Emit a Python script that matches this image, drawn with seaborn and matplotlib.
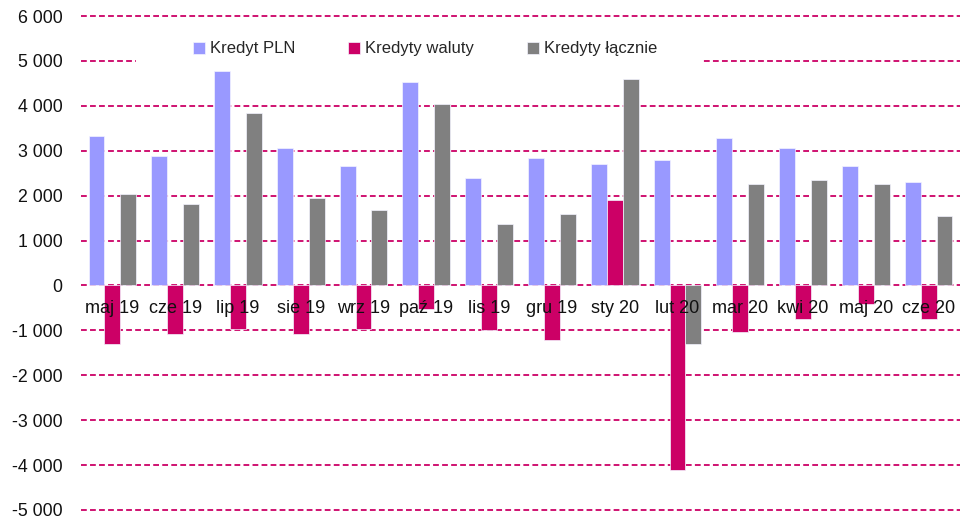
import matplotlib
matplotlib.use("Agg")
import matplotlib.pyplot as plt
import seaborn as sns
import pandas as pd
from matplotlib.ticker import FuncFormatter
from matplotlib.patches import Rectangle

months = ["maj 19", "cze 19", "lip 19", "sie 19", "wrz 19", "paź 19", "lis 19",
          "gru 19", "sty 20", "lut 20", "mar 20", "kwi 20", "maj 20", "cze 20"]
kredyt_pln = [3330, 2880, 4780, 3055, 2660, 4520, 2400, 2830, 2700, 2790, 3280, 3055, 2660, 2305]
kredyty_waluty = [-1310, -1090, -960, -1090, -960, -515, -1000, -1220, 1905, -4100, -1045, -740, -420, -740]
kredyty_lacznie = [2045, 1820, 3850, 1955, 1680, 4035, 1375, 1600, 4605, -1310, 2260, 2350, 2260, 1550]
series_names = ["Kredyt PLN", "Kredyty waluty", "Kredyty łącznie"]
colors = ["#9999FF", "#CC0066", "#808080"]

rows = []
for name, vals in zip(series_names, [kredyt_pln, kredyty_waluty, kredyty_lacznie]):
    for m, v in zip(months, vals):
        rows.append({"month": m, "series": name, "value": v})
df = pd.DataFrame(rows)

sns.set_theme(style="white")
plt.rcParams["font.family"] = ["Liberation Sans", "DejaVu Sans"]

fig = plt.figure(figsize=(9.6, 5.22), dpi=100)
ax = fig.add_axes([81/960, 1 - 510/522, 1 - 81/960, (510 - 16)/522])

sns.barplot(data=df, x="month", y="value", hue="series", order=months,
            hue_order=series_names, palette=colors, width=0.76, saturation=1,
            edgecolor="#F4F4FF", linewidth=0.5, ax=ax, zorder=3)

ax.set_ylim(-5000, 6000)
ax.set_xlim(-0.5, len(months) - 0.5)
ax.set_yticks(range(-5000, 6001, 1000))
ax.yaxis.set_major_formatter(FuncFormatter(lambda v, p: f"{int(v):,}".replace(",", " ")))
ax.grid(axis="y", color="#CC0066", linestyle=(0, (3.2, 1.8)), linewidth=1.3)
ax.grid(axis="x", visible=False)
ax.set_axisbelow(True)
for gl in ax.yaxis.get_gridlines():
    gl.set_clip_on(False)
for s in ax.spines.values():
    s.set_visible(False)
ax.tick_params(axis="y", length=0, pad=13.5, labelsize=12.8, labelcolor="#111111")
ax.tick_params(axis="x", length=0, labelbottom=False)
ax.set_xlabel("")
ax.set_ylabel("")

# category labels drawn on top of the bars, just under the zero line
for i, m in enumerate(months):
    ax.annotate(m, xy=(i, 0), xytext=(0, -10.5), textcoords="offset points",
                ha="center", va="top", fontsize=13, color="#111111", zorder=6,
                annotation_clip=False)

# white box behind the legend interrupting the gridline
ax.add_patch(Rectangle((136/960, 1 - 75/522), (703 - 136)/960, 40/522,
                       transform=fig.transFigure, facecolor="white",
                       edgecolor="none", zorder=1))

handles, labels = ax.get_legend_handles_labels()
leg = ax.legend(handles, labels, loc="center", bbox_to_anchor=(425/960, 1 - 49/522),
                bbox_transform=fig.transFigure, ncol=3, frameon=False, fontsize=12,
                handlelength=0.7, handleheight=0.7, handletextpad=0.3, columnspacing=3.2)
leg.set_zorder(4)

fig.savefig("out.png", dpi=100)
